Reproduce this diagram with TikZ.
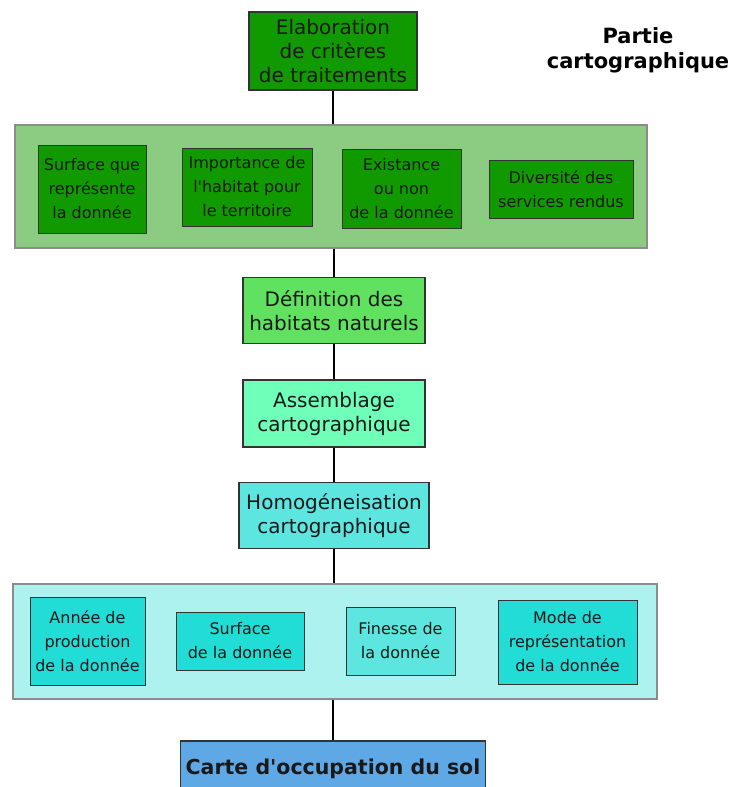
\documentclass[tikz,border=0pt]{standalone}
\usepackage{fontspec}
\setmainfont{DejaVu Sans}
\usepackage{tikz}
\usetikzlibrary{positioning}
\definecolor{vertfonce}{RGB}{16,154,0}
\definecolor{vertbande}{RGB}{139,203,130}
\definecolor{vertclair}{RGB}{96,226,96}
\definecolor{menthe}{RGB}{111,255,185}
\definecolor{cyanmoyen}{RGB}{93,230,224}
\definecolor{cyanbande}{RGB}{174,242,239}
\definecolor{cyanfonce}{RGB}{34,220,214}
\definecolor{bleucarte}{RGB}{94,168,230}
\tikzstyle{block} = [rectangle, draw=black!80, line width=1.2pt, align=center,
    inner sep=0pt, font=\fontsize{20}{24}\selectfont, text=black!90]
\tikzstyle{critere} = [rectangle, draw=black!80, line width=1pt, align=center,
    inner sep=0pt, font=\fontsize{16}{24}\selectfont, text=black!90]
\tikzstyle{bande} = [rectangle, draw=black!45, line width=1.5pt, inner sep=0pt]
\tikzstyle{line} = [draw, line width=1.3pt]

\begin{document}
\begin{tikzpicture}[x=1pt, y=-1pt]
      \useasboundingbox (0,0) rectangle (736,787);
      \clip (0,0) rectangle (736,787);
      % Chaine principale
      \node [block, fill=vertfonce, minimum width=168pt, minimum height=78pt] at (333,51) (elab)
          {Elaboration\\de critères\\de traitements};
      \node [font=\bfseries\fontsize{21}{25}\selectfont, align=center, inner sep=0pt] at (638,50) (titre)
          {Partie\\cartographique};
      \node [bande, fill=vertbande, minimum width=632pt, minimum height=123pt] at (331,186.5) (bande1) {};
      \node [block, fill=vertclair, minimum width=182pt, minimum height=66pt, below=28pt of bande1, xshift=3pt] (def)
          {Définition des\\habitats naturels};
      \node [block, fill=menthe, minimum width=182pt, minimum height=67pt, below=35.5pt of def] (assem)
          {Assemblage\\cartographique};
      \node [block, fill=cyanmoyen, minimum width=190pt, minimum height=66pt, below=34.5pt of assem] (homog)
          {Homogéneisation\\cartographique};
      \node [bande, fill=cyanbande, minimum width=644pt, minimum height=115pt, below=34pt of homog, xshift=1pt] (bande2) {};
      \node [block, fill=bleucarte, minimum width=305pt, minimum height=56pt, below=40.5pt of bande2, xshift=-2pt,
          font=\bfseries\fontsize{20.5}{24}\selectfont] (carte)
          {Carte d\textquotesingle occupation du sol};
      % Criteres de traitement
      \node [critere, fill=vertfonce, minimum width=108pt, minimum height=88pt] at (92,189) (surfq)
          {Surface que\\représente\\la donnée};
      \node [critere, fill=vertfonce, minimum width=130pt, minimum height=78pt] at (247,187) (impor)
          {Importance de\\l\textquotesingle habitat pour\\le territoire};
      \node [critere, fill=vertfonce, minimum width=119pt, minimum height=79pt] at (401.5,188.5) (exist)
          {Existance\\ou non\\de la donnée};
      \node [critere, fill=vertfonce, minimum width=144pt, minimum height=58pt] at (561,189) (divers)
          {Diversité des\\services rendus};
      % Criteres d'homogeneisation
      \node [critere, fill=cyanfonce, minimum width=115pt, minimum height=88pt] at (87.5,641) (annee)
          {Année de\\production\\de la donnée};
      \node [critere, fill=cyanfonce, minimum width=128pt, minimum height=58pt] at (240,641) (surf)
          {Surface\\de la donnée};
      \node [critere, fill=cyanmoyen, minimum width=109pt, minimum height=68pt] at (400.5,641) (fin)
          {Finesse de\\la donnée};
      \node [critere, fill=cyanfonce, minimum width=139pt, minimum height=84pt] at (567.5,642) (mode)
          {Mode de\\représentation\\de la donnée};
      % Liens
      \path [line] (elab) -- (elab |- bande1.north);
      \path [line] (bande1.south -| def) -- (def);
      \path [line] (def) -- (assem);
      \path [line] (assem) -- (homog);
      \path [line] (homog) -- (homog |- bande2.north);
      \path [line] (bande2.south -| carte) -- (carte);
  \end{tikzpicture}
\end{document}
